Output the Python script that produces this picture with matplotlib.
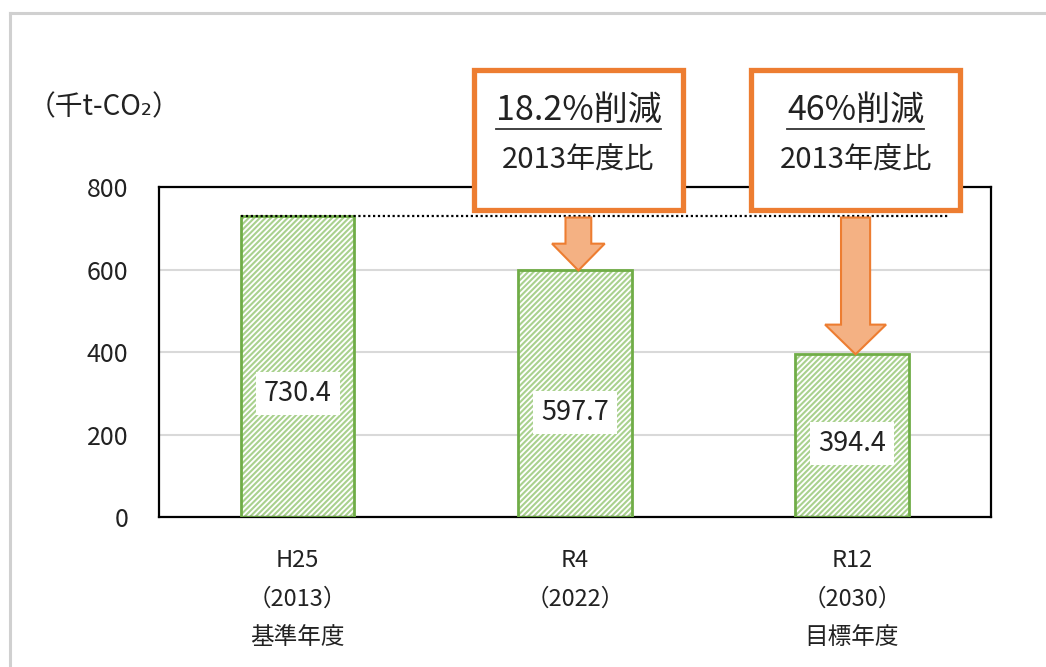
import matplotlib
matplotlib.use("Agg")
import matplotlib.pyplot as plt
from matplotlib.patches import Rectangle, Polygon
from matplotlib.lines import Line2D

plt.rcParams['font.family'] = ['Noto Sans CJK JP', 'DejaVu Sans']
plt.rcParams['hatch.linewidth'] = 1.5

# emissions, thousand t-CO2
years = ["H25\n（2013）\n基準年度", "R4\n（2022）\n", "R12\n（2030）\n目標年度"]
emissions = [730.4, 597.7, 394.4]
value_labels = ["730.4", "597.7", "394.4"]
cut_labels = [None, "18.2%削減", "46%削減"]
base_label = "2013年度比"
yticks = [0, 200, 400, 600, 800]

GREEN = "#70ad47"
HATCH = "#a9d18e"
ORANGE = "#ed7d31"
ARROW = "#f4b183"

fig = plt.figure(figsize=(10.46, 6.67), dpi=100)
ax = fig.add_axes([0.152, 0.2249, 0.795, 0.4947])

x = list(range(len(emissions)))
w = 0.41
ax.bar(x, emissions, w, color="white", edgecolor=HATCH, hatch="//////", linewidth=0, zorder=2)
ax.bar(x, emissions, w, fill=False, edgecolor=GREEN, linewidth=2, zorder=3)

ax.set_xlim(-0.5, 2.5)
ax.set_ylim(0, 800)
ax.set_yticks(yticks)
ax.set_yticklabels([str(v) for v in yticks], fontsize=18, color="#222222")
ax.tick_params(axis="y", length=0, pad=22)
ax.yaxis.grid(True, color="#d9d9d9", linewidth=1.5, zorder=0)
ax.set_axisbelow(True)
ax.set_xticks(x)
ax.set_xticklabels(years, fontsize=17, color="#222222")
ax.tick_params(axis="x", length=0, pad=23)
for t in ax.get_xticklabels():
    t.set_linespacing(1.85)
    t.set_va("top")
for s in ax.spines.values():
    s.set_color("black")
    s.set_linewidth(1.6)

# value labels in white boxes inside each bar
label_y = [300, 254, 179]
for xi, ly, lab in zip(x, label_y, value_labels):
    ax.text(xi, ly, lab, ha="center", va="center", fontsize=19.5, color="#222222", zorder=5,
            bbox=dict(boxstyle="square,pad=0.3", fc="white", ec="none"))

# reference line at base year level
ax.plot([-w / 2, 2.35], [emissions[0], emissions[0]], color="black",
        linestyle=(0, (1, 1.2)), linewidth=1.6, zorder=4, clip_on=False)


def down_arrow(xc, y0, y1, shaft_w, head_w, head_len):
    yh = y1 + head_len
    pts = [(xc - shaft_w / 2, y0), (xc + shaft_w / 2, y0), (xc + shaft_w / 2, yh),
           (xc + head_w / 2, yh), (xc, y1), (xc - head_w / 2, yh), (xc - shaft_w / 2, yh)]
    ax.add_patch(Polygon(pts, closed=True, fc=ARROW, ec=ORANGE, lw=1.5, zorder=6, clip_on=False))


fig.canvas.draw()
renderer = fig.canvas.get_renderer()
box_w = 0.755
for xi, val, cut in zip(x, emissions, cut_labels):
    if cut is None:
        continue
    xc = xi + 0.013
    down_arrow(xc, 726, val, 0.093 if xi == 1 else 0.105, 0.19 if xi == 1 else 0.22,
               65 if xi == 1 else 72)
    ax.add_patch(Rectangle((xc - box_w / 2, 745), box_w, 338, fc="white", ec=ORANGE,
                           lw=3.8, zorder=7, clip_on=False))
    t1 = ax.text(xc, 986, cut, ha="center", va="center", fontsize=24.5, color="#222222",
                 zorder=8, clip_on=False)
    ax.text(xc, 864, base_label, ha="center", va="center", fontsize=21, color="#222222",
            zorder=8, clip_on=False)
    bb = t1.get_window_extent(renderer)
    inv = fig.transFigure.inverted()
    (fx0, fy0), (fx1, _) = inv.transform([(bb.x0, bb.y0), (bb.x1, bb.y0)])
    fig.add_artist(Line2D([fx0, fx1], [fy0 - 0.002, fy0 - 0.002], color="#333333", lw=1.3))

fig.text(28 / 1046, 1 - 107 / 667, "（千t-CO₂）", ha="left", va="center", fontsize=20,
         color="#222222")

# outer frame
fig.add_artist(Line2D([9.5 / 1046, 9.5 / 1046], [0, 1 - 12.5 / 667], color="#d0d0d0", lw=2.2))
fig.add_artist(Line2D([9.5 / 1046, 1], [1 - 12.5 / 667, 1 - 12.5 / 667], color="#d0d0d0", lw=2.2))

fig.savefig("out.png", dpi=100, facecolor="white")
